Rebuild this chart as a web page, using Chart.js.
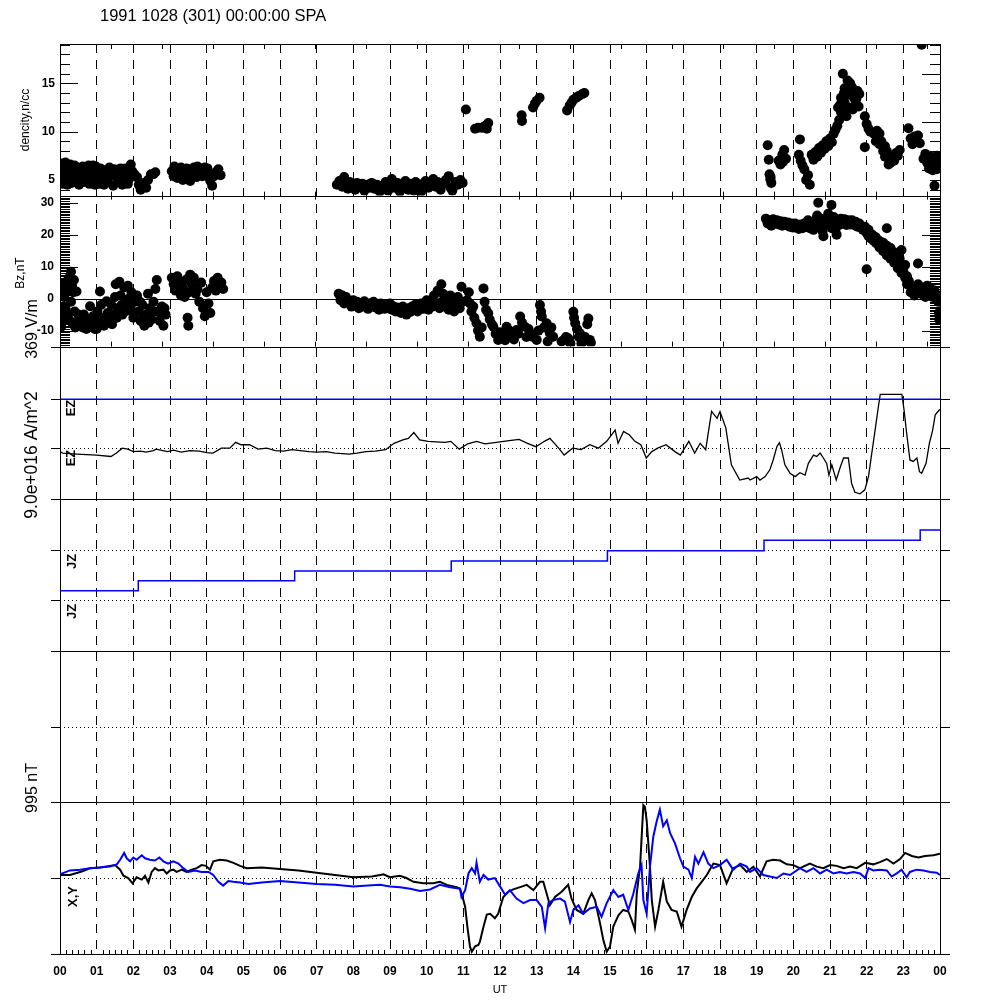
<!DOCTYPE html>
<html>
<head>
<meta charset="utf-8">
<script src="https://cdn.jsdelivr.net/npm/chart.js@4/dist/chart.umd.min.js"></script>
<style>
  html, body { margin: 0; padding: 0; background: #fff; }
  #wrap { width: 1000px; height: 1000px; }
</style>
</head>
<body>
<div id="wrap"><canvas id="c" width="1000" height="1000"></canvas></div>
<script>
// ---- data (hours UT) ----
const hourTicks = [0,1,2,3,4,5,6,7,8,9,10,11,12,13,14,15,16,17,18,19,20,21,22,23,24];
const hourLabels = ["00","01","02","03","04","05","06","07","08","09","10","11","12",
  "13","14","15","16","17","18","19","20","21","22","23","00"];
const densTicks = [5, 10, 15];
const densTicksRight = [6, 11, 16];
const bzTicks = [-10, 0, 10, 20, 30];
const bzTicksRight = [-10, 10, 20];

// density, n/cc
const densPts = [
  [0.03,6.7],[0.05,5.2],[0.06,4.6],[0.10,6.2],[0.12,5.0],[0.15,6.8],[0.18,5.8],[0.20,4.5],[0.22,6.4],[0.26,5.4],
  [0.28,6.6],[0.32,4.7],[0.35,6.2],[0.38,5.6],[0.40,6.5],[0.45,5.0],[0.48,6.3],[0.52,4.5],[0.55,6.0],[0.58,5.5],
  [0.62,6.4],[0.65,4.8],[0.70,6.2],[0.72,5.3],[0.78,6.5],[0.80,4.6],[0.85,5.9],[0.88,6.1],[0.92,5.2],[0.95,4.5],
  [0.98,6.4],[1.03,5.9],[1.06,4.6],[1.10,6.2],[1.15,5.4],[1.20,4.5],[1.25,6.0],[1.30,5.0],[1.35,6.3],[1.40,5.6],
  [1.45,4.4],[1.50,5.4],[1.55,6.0],[1.60,4.9],[1.65,6.2],[1.70,4.5],[1.75,5.3],[1.80,5.8],[1.85,4.6],[1.90,5.6],
  [1.93,6.6],[1.97,5.9],[2.03,5.6],[2.10,5.3],[2.15,4.5],[2.20,4.0],[2.25,4.2],[2.28,4.7],[2.35,4.2],[2.40,5.0],
  [2.48,5.6],[2.55,5.6],[2.60,5.8],
  [0.08,5.6],[0.25,5.9],[0.42,5.5],[0.60,5.1],[0.75,5.8],[0.90,6.5],[1.00,5.0],[1.12,5.0],[1.32,5.6],[1.48,6.1],
  [1.62,5.5],[1.78,6.2],[1.88,5.1],
  [3.05,5.9],[3.10,5.4],[3.15,6.1],[3.20,5.2],[3.25,5.8],[3.30,6.3],[3.35,5.0],[3.40,5.5],[3.45,6.2],[3.50,5.9],
  [3.55,4.9],[3.60,5.6],[3.65,6.3],[3.70,6.0],[3.75,6.4],[3.80,5.6],[3.85,6.2],[3.90,5.9],[3.95,6.3],[4.00,5.8],
  [4.05,5.3],[4.10,4.9],[4.15,4.4],[4.20,5.4],[4.25,5.8],[4.32,6.1],[4.38,5.5],
  [3.12,6.4],[3.28,5.6],[3.42,6.0],[3.58,6.1],[3.72,5.3],[3.88,5.4],[4.02,6.2],
  [7.55,4.5],[7.62,4.9],[7.70,4.3],[7.75,5.3],[7.80,4.6],[7.85,4.1],[7.90,4.8],[7.95,4.3],[8.00,4.6],[8.05,4.0],
  [8.10,4.7],[8.18,4.3],[8.25,4.6],[8.30,3.9],[8.38,4.5],[8.45,4.2],[8.50,4.7],[8.58,4.1],[8.65,4.5],[8.72,3.8],
  [8.80,4.4],[8.88,4.8],[8.95,3.9],[9.00,4.5],[9.05,5.1],[9.12,4.2],[9.20,4.7],[9.27,3.8],[9.35,4.4],[9.42,4.9],
  [9.50,4.0],[9.57,4.6],[9.65,3.9],[9.70,4.8],[9.78,4.3],[9.85,3.8],[9.90,4.6],[9.97,4.9],[10.05,4.2],[10.10,4.7],
  [10.18,5.1],[10.25,4.3],[10.30,4.8],[10.38,4.0],[10.45,4.6],[10.52,5.0],[10.60,5.4],[10.65,4.2],[10.70,3.9],[10.78,4.8],
  [10.85,4.5],[10.92,5.0],[10.98,4.7],
  [11.07,12.3],[11.32,10.3],[11.40,10.4],[11.50,10.4],[11.60,10.6],[11.68,10.9],[11.64,10.3],
  [12.59,11.7],[12.60,11.1],[12.90,12.5],[12.95,12.9],[13.00,13.2],[13.08,13.5],
  [13.83,12.2],[13.90,12.7],[13.95,13.0],[14.00,13.3],[14.08,13.5],[14.15,13.7],[14.25,13.9],[14.30,14.0],
  [19.30,8.6],[19.33,7.1],[19.35,5.6],[19.37,5.1],[19.40,4.7],[19.38,5.3],[19.60,7.0],[19.70,7.6],[19.75,8.1],[19.65,6.6],
  [19.80,7.2],[19.72,6.9],
  [20.18,9.2],[20.15,7.6],[20.20,7.0],[20.30,6.1],[20.40,5.5],[20.35,5.0],[20.45,4.5],[20.50,7.6],[20.60,7.9],[20.70,8.3],
  [20.25,6.5],[20.55,7.1],[20.65,7.4],[20.75,7.8],[20.85,8.2],[20.95,8.5],[21.05,8.9],
  [20.80,8.6],[20.90,9.0],[21.00,9.3],[21.10,9.8],[21.15,10.2],[21.20,10.6],[21.25,11.2],[21.30,12.0],[21.30,13.5],[21.35,16.0],
  [21.40,14.5],[21.45,13.8],[21.50,14.2],[21.55,15.0],[21.60,14.6],[21.65,13.5],[21.70,12.9],[21.75,14.2],[21.80,13.9],[21.50,12.5],
  [21.45,11.6],[21.40,13.0],[21.22,12.5],[21.28,12.8],[21.38,14.0],[21.48,15.3],[21.58,13.9],[21.62,12.3],[21.72,13.4],[21.78,12.6],
  [21.95,11.6],[22.00,10.8],[22.05,10.3],[22.10,10.0],[21.95,8.4],[22.20,9.8],[22.30,9.4],[22.40,9.0],
  [22.50,8.5],[22.55,8.0],[22.60,7.4],[22.65,6.8],[22.70,7.3],[22.80,7.8],[22.90,8.1],
  [22.25,9.0],[22.35,8.7],[22.45,8.0],[22.50,7.4],[22.60,6.6],[22.75,7.0],[22.85,7.5],[22.35,9.8],[22.28,10.1],
  [23.14,10.35],[23.20,9.3],[23.30,9.5],[23.25,8.7],
  [23.40,9.6],[23.45,8.8],[23.35,9.0],[23.55,7.2],[23.65,6.8],[23.75,7.4],[23.85,6.5],[23.95,7.0],[23.90,6.1],[23.70,6.2],
  [23.60,7.7],[23.80,6.0],[23.98,6.5],[23.92,7.5],
  [23.85,4.4],[23.50,19.0]
];

// Bz, nT
const bzPts = [
  [0.03,-8.8],[0.05,1.5],[0.06,-2.5],[0.08,4.5],[0.10,-5],[0.12,0.5],[0.15,-6.5],[0.18,2.5],[0.20,5.5],[0.25,6.5],
  [0.30,8.4],[0.33,4.0],[0.30,-1],[0.36,2.0],[0.38,5.8],[0.40,-4],[0.45,2.2],[0.45,-7.5],[0.50,-5],[0.52,-8.5],
  [0.58,-6.5],[0.62,-9],[0.68,-8],[0.72,-9.5],[0.75,-6.5],[0.82,-2.4],[0.85,-8.5],[0.90,-5.5],[0.95,-9.5],[0.98,-7],
  [1.02,-4],[1.05,-8],[1.09,2.2],[1.12,-2],[1.16,-6],[1.20,-8.5],[1.27,-0.8],[1.30,-4.5],[1.35,-7],[1.40,-2],
  [1.45,-5],[1.50,0.5],[1.52,4.5],[1.58,-3],[1.62,5.3],[1.65,1],[1.70,-5],[1.75,3.5],[1.80,-1],[1.85,4],
  [1.88,0],[1.92,-3],[1.95,2],[2.00,-6],[2.05,-1],[2.10,1],[2.15,-4],[2.20,-7],[2.25,-2],[2.30,-8.5],
  [2.35,-5],[2.40,1.5],[2.45,-3],[2.50,-6.5],[2.55,-1],[2.60,3],[2.64,5.8],[2.68,-4],[2.72,-7],[2.78,-2.5],
  [2.82,-8.5],[2.88,-5],
  [0.15,-3],[0.22,-5],[0.28,-7],[0.35,-8],[0.42,-9],[0.55,-7],[0.65,-5],[0.78,-9],[0.88,-7],[1.00,-9.5],
  [1.08,-6],[1.25,-7],[1.42,-8],[1.55,-6],[1.68,-2],[1.78,-4],[1.98,-4],[2.18,-1],[2.28,-5.5],[2.42,-7.5],
  [2.58,-4],[2.75,-5],[2.85,-3],
  [3.05,6.5],[3.10,4.5],[3.15,2.5],[3.20,7.0],[3.25,5.5],[3.30,1.0],[3.35,3.5],[3.40,0.5],[3.45,6.0],[3.48,-6.0],
  [3.50,-8.5],[3.52,2.0],[3.55,7.5],[3.60,4.5],[3.65,6.5],[3.70,1.5],[3.75,3.0],[3.80,-1.0],[3.85,5.0],[3.90,-3.0],
  [3.95,-5.5],[4.00,2.0],[4.05,-1.5],[4.10,-4.5],[4.15,3.5],[4.20,5.5],[4.25,2.5],[4.30,6.5],[4.35,4.0],[4.40,5.0],
  [4.45,3.0],
  [7.60,1.5],[7.65,-0.5],[7.70,1.0],[7.75,-1.5],[7.80,0.5],[7.90,-1],[7.95,-2.5],[8.00,-0.5],[8.05,-2],[8.10,-1],
  [8.15,-3],[8.20,-1.5],[8.25,-2.5],[8.30,-0.8],[8.35,-2.2],[8.40,-3.2],[8.45,-1.5],[8.50,-2.5],[8.55,-1.0],[8.60,-2.8],
  [8.65,-2.0],[8.70,-3.5],[8.75,-1.5],[8.80,-2.5],[8.85,-3.2],[8.90,-2.0],[8.95,-3.0],[9.00,-1.5],[9.05,-3.5],[9.10,-2.5],
  [9.15,-4.0],[9.20,-2.8],[9.25,-3.5],[9.30,-4.5],[9.35,-2.5],[9.40,-3.8],[9.45,-5.0],[9.50,-3.0],[9.55,-4.2],[9.60,-2.5],
  [9.65,-3.5],[9.70,-1.8],[9.75,-4.0],[9.80,-2.8],[9.85,-1.5],[9.90,-3.2],[9.95,-2.0],[10.00,-0.5],[10.05,-3.5],[10.10,-1.0],
  [10.15,-2.5],[10.20,1.0],[10.25,-2.0],[10.30,2.5],[10.35,-3.0],[10.40,4.5],[10.42,-1],[10.45,1.5],[10.50,-2.5],[10.55,-0.5],
  [10.60,-3.5],[10.65,1.0],[10.70,-1.5],[10.75,-4.0],[10.80,-2.0],[10.85,0.5],[10.90,-3.0],[10.95,3.7],[10.98,-1.0],
  [11.10,-0.5],[11.15,2.0],[11.18,-1.5],[11.22,-4.0],[11.27,-2.5],[11.30,-6.0],[11.36,-7.7],[11.40,-10.0],[11.45,-11.9],[11.50,-9.0],
  [11.55,3.2],[11.58,-1.0],[11.62,-3.5],[11.68,-4.6],[11.72,-6.5],[11.78,-8.0],[11.82,-8.8],[11.88,-11.0],[11.95,-12.9],[12.00,-10.5],
  [12.05,-12.0],[12.09,-10.8],[12.14,-13.0],[12.18,-8.8],[12.25,-10.0],[12.32,-11.9],[12.38,-12.8],[12.45,-9.8],[12.50,-11.0],[12.55,-5.6],
  [12.60,-7.5],[12.68,-8.8],[12.72,-12.0],[12.78,-9.5],[12.82,-10.8],[12.90,-12.0],[13.00,-12.9],[13.05,-10.0],[13.09,-2.0],[13.12,-4.0],
  [13.14,-5.6],[13.20,-9.0],[13.27,-7.7],[13.30,-13.4],[13.36,-10.8],[13.40,-9.0],[13.45,-11.9],[13.68,-13.4],[13.73,-13.0],[13.80,-12.0],
  [13.86,-12.4],[13.92,-14.0],[14.00,-4.1],[14.02,-6.0],[14.05,-7.7],[14.10,-9.5],[14.15,-12.0],[14.18,-10.8],[14.22,-14.0],[14.27,-13.4],
  [14.32,-12.0],[14.38,-8.0],[14.41,-6.2],[14.45,-12.9],[14.48,-13.8],
  [19.25,25],[19.30,23.5],[19.35,24.5],[19.40,22.8],[19.45,24.8],[19.50,23.5],[19.55,24.5],[19.60,23.2],[19.65,24.2],[19.70,22.8],
  [19.75,24],[19.80,23],[19.85,23.8],[19.90,22.5],[19.95,23.5],[20.00,22.2],[20.05,23.5],[20.10,22.5],[20.15,21.8],[20.20,23.2],
  [20.25,22],[20.30,23.5],[20.35,22.5],[20.40,24.5],[20.45,22],[20.50,23.8],[20.55,21.5],[20.60,24.5],[20.65,26],[20.68,30],
  [20.70,22.5],[20.75,25],[20.80,21],[20.82,19.5],[20.85,24.5],[20.90,23],[20.95,26.5],[21.00,24],[21.04,29.3],[21.05,22],
  [21.10,25.5],[21.15,21.5],[21.18,20],[21.20,24.5],[21.25,23],[21.30,25],[21.35,23.5],[21.40,24.8],[21.45,23],[21.50,24.5],
  [21.55,23.2],[21.60,24.5],[21.65,23],[21.70,24],[21.75,22.5],[21.80,23.5],[21.85,22.2],[21.90,21.5],[21.95,22.5],
  [22.00,20.5],[22.05,21.5],[22.10,19],[22.15,20],[22.20,18],[22.25,19.2],[22.30,17],[22.35,18],[22.40,16.5],[22.45,17.5],
  [22.50,15.5],[22.55,22],[22.55,16.5],[22.60,14.5],[22.65,15.8],[22.70,13.5],[22.75,14.5],[22.80,12.5],[22.85,11],[22.90,12.5],
  [22.95,15.2],[22.95,10],[23.00,8.5],[23.05,10.5],[23.10,7],[23.15,5.5],[23.20,4],[23.25,2.5],[23.30,3.5],[23.35,1.5],
  [23.40,11],[23.40,4.5],[23.45,2],[23.50,3.5],[23.55,1.0],[23.60,2.5],[23.65,4],[23.70,2],[23.75,3],[23.80,1.5],
  [23.85,2.5],[23.90,0.5],[23.95,-1],[22.00,9.2],[23.97,-4.5],[23.98,-6.5],[23.99,-5.5],
  [22.05,19.5],[22.15,18.5],[22.25,17.5],[22.35,16],[22.45,14.8],[22.55,13.5],[22.65,12.5],[22.75,11.2],[22.85,9.5],[22.95,8.0],
  [23.05,6.5],[23.10,4.5],[23.20,2],[23.30,1],[23.45,3.2],[23.60,0.5],[23.70,3.5],[23.80,0.5]
];

// EZ trace (panel units: dotted line = 0, blue line = 1)
const ezPts = [
  [0,-0.07],[0.07,-0.1],[0.46,-0.12],[1.0,-0.14],[1.39,-0.17],[1.54,-0.1],[1.7,0.0],[1.85,-0.02],[2.0,-0.07],[2.2,-0.06],
  [2.35,-0.08],[2.55,-0.05],[2.62,-0.02],[2.93,-0.07],[3.1,-0.04],[3.3,-0.08],[3.55,-0.05],[3.8,-0.06],[4.0,-0.09],[4.17,-0.1],
  [4.4,0.0],[4.63,0.0],[4.79,0.12],[4.94,0.07],[5.17,0.07],[5.4,-0.02],[5.64,0.0],[5.87,-0.05],[6.1,-0.06],[6.33,-0.03],
  [6.55,-0.05],[6.8,-0.07],[7.0,-0.08],[7.26,-0.07],[7.5,-0.1],[7.7,-0.11],[7.88,-0.12],[8.1,-0.1],[8.34,-0.07],[8.6,-0.06],
  [8.88,-0.03],[9.11,0.1],[9.35,0.17],[9.5,0.2],[9.65,0.32],[9.81,0.17],[10.04,0.14],[10.5,0.12],[10.66,0.14],[10.89,-0.02],
  [11.12,0.09],[11.36,0.14],[11.59,0.09],[11.9,0.12],[12.2,0.15],[12.52,0.18],[12.75,0.1],[12.98,0.03],[13.21,0.14],[13.36,0.2],
  [13.6,0.0],[13.75,-0.14],[13.98,0.0],[14.21,-0.03],[14.45,0.07],[14.68,0.0],[14.91,0.14],[15.14,0.37],[15.22,0.1],[15.37,0.34],
  [15.53,0.27],[15.68,0.14],[15.84,0.07],[15.99,-0.2],[16.14,-0.07],[16.3,0.0],[16.53,0.07],[16.77,-0.07],[16.92,-0.14],[17.15,0.14],
  [17.31,-0.1],[17.46,0.1],[17.61,-0.03],[17.77,0.75],[17.92,0.61],[18.0,0.75],[18.16,0.41],[18.31,-0.34],[18.54,-0.65],[18.77,-0.61],
  [18.82,-0.65],[19.0,-0.58],[19.09,-0.65],[19.23,-0.58],[19.36,-0.44],[19.45,-0.24],[19.55,0.03],[19.62,0.11],[19.68,-0.03],[19.77,-0.34],
  [19.91,-0.51],[20.05,-0.58],[20.18,-0.5],[20.32,-0.55],[20.41,-0.31],[20.55,-0.14],[20.64,-0.17],[20.73,-0.1],[20.82,-0.2],[20.91,-0.31],
  [20.97,-0.55],[21.05,-0.34],[21.17,-0.65],[21.27,-0.41],[21.37,-0.2],[21.5,-0.2],[21.59,-0.72],[21.68,-0.9],[21.82,-0.93],[21.95,-0.85],
  [22.05,-0.58],[22.14,-0.1],[22.23,0.37],[22.32,0.85],[22.37,1.1],[22.96,1.1],[23.02,0.78],[23.09,0.31],[23.18,-0.24],[23.27,-0.27],
  [23.37,-0.2],[23.44,-0.48],[23.5,-0.51],[23.62,-0.31],[23.71,0.1],[23.8,0.37],[23.87,0.68],[23.98,0.78],[24.0,0.78]
];
const ezBluePts = [[0,1],[24,1]];

// JZ step trace (dotted line = 0)
const jzPts = [[0,0.19],[2.135,0.39],[6.4,0.58],[10.67,0.78],[14.93,0.98],[19.2,1.19],[23.46,1.39],[24,1.39]];

// X (black) and Y (blue) magnetometer traces, panel units (dotted = 0, edges = +-1)
const magXPts = [
  [0,0.04],[0.27,0.04],[0.55,0.08],[0.68,0.10],[0.82,0.13],[1.09,0.14],[1.36,0.16],[1.5,0.17],[1.64,0.11],[1.73,0.03],
  [1.86,0.0],[1.98,-0.07],[2.09,0.01],[2.23,-0.02],[2.32,0.03],[2.41,-0.06],[2.5,0.08],[2.59,0.13],[2.68,0.10],[2.82,0.11],
  [2.91,0.06],[3.0,0.10],[3.09,0.11],[3.18,0.08],[3.32,0.11],[3.45,0.08],[3.59,0.11],[3.73,0.13],[3.86,0.17],[3.98,0.16],
  [4.09,0.11],[4.18,0.22],[4.36,0.24],[4.55,0.23],[4.73,0.20],[4.91,0.16],[5.09,0.13],[5.5,0.14],[6.0,0.12],[6.5,0.10],
  [7.0,0.07],[7.5,0.04],[8.0,0.01],[8.5,0.02],[8.73,0.04],[8.82,0.05],[9.0,0.01],[9.27,0.03],[9.45,0.0],[9.64,-0.05],
  [9.91,-0.07],[10.18,-0.07],[10.36,-0.05],[10.55,-0.09],[10.82,-0.12],[10.91,-0.14],[10.98,-0.25],[11.05,-0.38],[11.11,-0.64],[11.18,-0.90],
  [11.23,-0.97],[11.32,-0.90],[11.41,-0.88],[11.45,-0.84],[11.55,-0.64],[11.64,-0.48],[11.73,-0.47],[11.86,-0.53],[11.95,-0.47],[12.09,-0.25],
  [12.23,-0.18],[12.36,-0.15],[12.55,-0.12],[12.73,-0.09],[12.91,-0.16],[13.09,-0.05],[13.18,-0.05],[13.27,-0.20],[13.36,-0.36],[13.5,-0.25],
  [13.68,-0.18],[13.86,-0.09],[13.95,-0.27],[14.09,-0.42],[14.27,-0.47],[14.41,-0.29],[14.5,-0.20],[14.59,-0.29],[14.73,-0.60],[14.82,-0.82],
  [14.91,-0.97],[15.0,-0.90],[15.09,-0.64],[15.23,-0.49],[15.36,-0.42],[15.5,-0.44],[15.59,-0.55],[15.68,-0.68],[15.73,-0.20],[15.82,0.15],
  [15.91,0.96],[15.95,0.94],[16.0,0.76],[16.09,0.15],[16.14,-0.29],[16.23,-0.64],[16.32,-0.42],[16.45,-0.05],[16.55,-0.31],[16.68,-0.42],
  [16.82,-0.44],[16.95,-0.64],[17.09,-0.42],[17.23,-0.25],[17.36,-0.14],[17.5,-0.05],[17.64,0.04],[17.82,0.19],[18.0,0.17],[18.18,-0.07],
  [18.36,0.13],[18.55,0.17],[18.73,0.08],[18.91,0.15],[19.09,0.02],[19.27,0.22],[19.45,0.24],[19.64,0.23],[19.82,0.18],[20.0,0.17],
  [20.18,0.13],[20.45,0.19],[20.64,0.15],[20.82,0.13],[21.0,0.17],[21.18,0.16],[21.37,0.13],[21.55,0.15],[21.73,0.13],[21.96,0.20],
  [22.18,0.18],[22.36,0.21],[22.55,0.25],[22.73,0.19],[22.91,0.25],[23.05,0.33],[23.23,0.29],[23.41,0.27],[23.59,0.29],[23.82,0.30],
  [24.0,0.32]
];
const magYPts = [
  [0,0.05],[0.27,0.10],[0.55,0.11],[0.82,0.13],[1.09,0.14],[1.36,0.15],[1.55,0.18],[1.64,0.24],[1.75,0.33],[1.82,0.26],
  [1.91,0.22],[2.0,0.27],[2.09,0.24],[2.23,0.30],[2.32,0.26],[2.45,0.24],[2.59,0.23],[2.71,0.27],[2.82,0.22],[2.95,0.19],
  [3.09,0.22],[3.23,0.19],[3.36,0.13],[3.5,0.08],[3.68,0.10],[3.86,0.08],[4.05,0.08],[4.18,0.04],[4.32,-0.05],[4.45,-0.10],
  [4.59,-0.04],[4.73,-0.05],[4.91,-0.06],[5.14,-0.08],[5.5,-0.06],[6.0,-0.04],[6.5,-0.06],[7.0,-0.08],[7.5,-0.09],[8.0,-0.11],
  [8.4,-0.10],[8.73,-0.09],[9.0,-0.11],[9.27,-0.12],[9.55,-0.14],[9.82,-0.17],[10.09,-0.15],[10.36,-0.09],[10.64,-0.12],[10.91,-0.14],
  [10.95,-0.25],[11.05,-0.16],[11.14,0.06],[11.23,0.13],[11.32,0.06],[11.36,0.20],[11.45,-0.05],[11.55,0.04],[11.68,-0.02],[11.86,0.0],
  [12.0,-0.11],[12.14,-0.22],[12.27,-0.16],[12.45,-0.27],[12.64,-0.33],[12.82,-0.29],[13.0,-0.29],[13.14,-0.38],[13.23,-0.66],[13.32,-0.33],
  [13.45,-0.29],[13.64,-0.27],[13.77,-0.31],[13.91,-0.58],[14.0,-0.42],[14.14,-0.36],[14.27,-0.47],[14.45,-0.40],[14.64,-0.38],[14.77,-0.51],
  [14.91,-0.33],[15.09,-0.16],[15.23,-0.25],[15.36,-0.22],[15.5,-0.42],[15.64,-0.20],[15.77,0.06],[15.86,0.17],[15.91,-0.29],[16.0,-0.47],
  [16.09,0.15],[16.18,0.54],[16.27,0.74],[16.36,0.90],[16.45,0.68],[16.55,0.76],[16.64,0.59],[16.77,0.46],[16.91,0.26],[17.0,0.15],
  [17.14,0.11],[17.23,0.0],[17.32,0.28],[17.41,0.19],[17.55,0.34],[17.68,0.19],[17.82,0.13],[18.0,0.17],[18.18,0.24],[18.36,0.11],
  [18.55,0.19],[18.73,0.15],[18.82,0.08],[19.0,0.13],[19.18,0.04],[19.36,0.02],[19.55,0.0],[19.73,0.06],[19.91,0.04],[20.18,0.13],
  [20.36,0.08],[20.55,0.13],[20.73,0.06],[20.91,0.11],[21.09,0.06],[21.27,0.08],[21.45,0.06],[21.64,0.08],[21.82,0.06],[21.96,0.0],
  [22.05,0.13],[22.18,0.10],[22.36,0.11],[22.55,0.10],[22.68,0.02],[22.82,0.06],[22.95,0.11],[23.09,0.01],[23.18,0.08],[23.36,0.11],
  [23.55,0.10],[23.73,0.08],[23.91,0.07],[24.0,0.04]
];

// ---- layout / styles ----
const FONT = '"Liberation Sans", Arial, Helvetica, sans-serif';
const BLUE = "#0000ff";
const auxTickStep = 1.391; // odd unlabeled ticks on some panel edges (every ~51px)

const panels = [
  { id: "yDens", min: 3.38, max: 19.07, h: 151.7 },
  { id: "yBz", min: -15.0, max: 32.19, h: 151 },
  { id: "yEz", min: -1.04, max: 2.073, h: 152.6 },
  { id: "yJz", min: -1, max: 2, h: 152 },
  { id: "yNone", min: -1, max: 1, h: 151 },
  { id: "yXy", min: -1, max: 1, h: 152 }
];
const refLines = [["yEz", 0], ["yEz", 1], ["yJz", 1], ["yJz", 0], ["yNone", 0], ["yXy", 0]];

function xy(arr) { return arr.map(function (p) { return { x: p[0], y: p[1] }; }); }

function hline(ctx, y, x1, x2) {
  const yy = Math.round(y) + 0.5;
  ctx.beginPath(); ctx.moveTo(x1, yy); ctx.lineTo(x2, yy); ctx.stroke();
}
function vline(ctx, x, y1, y2) {
  const xx = Math.round(x) + 0.5;
  ctx.beginPath(); ctx.moveTo(xx, y1); ctx.lineTo(xx, y2); ctx.stroke();
}
function vtext(ctx, text, cx, cy, font) {
  ctx.save();
  ctx.translate(cx, cy);
  ctx.rotate(-Math.PI / 2);
  ctx.font = font;
  ctx.textAlign = "center";
  ctx.textBaseline = "middle";
  ctx.fillText(text, 0, 0);
  ctx.restore();
}

const scales = {
  x: {
    type: "linear", position: "bottom", min: 0, max: 24, weight: 0,
    afterFit: function (s) { s.height = 46; },
    afterBuildTicks: function (s) { s.ticks = hourTicks.map(function (v) { return { value: v }; }); },
    grid: { color: "#000", lineWidth: 1, drawTicks: false },
    border: { display: false, dash: [9, 7] },
    ticks: {
      autoSkip: false, maxRotation: 0, padding: 10, color: "#000",
      font: { family: FONT, size: 12, weight: "bold" },
      callback: function (v, i) { return hourLabels[i]; }
    }
  }
};
panels.forEach(function (p, i) {
  scales[p.id] = {
    type: "linear", position: "left", stack: "panels", stackWeight: p.h,
    weight: panels.length - i, min: p.min, max: p.max,
    afterFit: function (s) { s.width = 60; },
    grid: { display: false, drawTicks: false },
    border: { display: false },
    ticks: { display: false }
  };
});
scales.yDens.ticks = { display: true, padding: 5, color: "#000", font: { family: FONT, size: 12, weight: "bold" } };
scales.yDens.afterBuildTicks = function (s) { s.ticks = densTicks.map(function (v) { return { value: v }; }); };
scales.yBz.ticks = { display: true, padding: 6, color: "#000", font: { family: FONT, size: 12, weight: "bold" } };
scales.yBz.afterBuildTicks = function (s) { s.ticks = bzTicks.map(function (v) { return { value: v }; }); };

const panelPlugin = {
  id: "panelPlugin",
  beforeDatasetsDraw: function (chart) {
    const ctx = chart.ctx, a = chart.chartArea, s = chart.scales;
    ctx.save();
    ctx.strokeStyle = "#000";
    ctx.lineWidth = 1;
    refLines.forEach(function (r) {
      const y = s[r[0]].getPixelForValue(r[1]);
      ctx.setLineDash([1, 3]);
      hline(ctx, y, a.left, a.right);
      ctx.setLineDash([]);
      hline(ctx, y, a.left - 9, a.left);
      hline(ctx, y, a.right, a.right + 10);
    });
    ctx.restore();
  },
  beforeDatasetDraw: function (chart, args) {
    const ys = chart.scales[args.meta.yAxisID];
    const a = chart.chartArea;
    chart.ctx.save();
    chart.ctx.beginPath();
    chart.ctx.rect(a.left, ys.top, a.right - a.left, ys.bottom - ys.top);
    chart.ctx.clip();
  },
  afterDatasetDraw: function (chart) {
    chart.ctx.restore();
  },
  afterDatasetsDraw: function (chart) {
    const ctx = chart.ctx, a = chart.chartArea, s = chart.scales;
    ctx.save();
    ctx.strokeStyle = "#000";
    ctx.lineWidth = 1;
    // frame
    vline(ctx, a.left, a.top, a.bottom + 1);
    vline(ctx, a.right, a.top, a.bottom + 1);
    hline(ctx, s.yDens.top, a.left, a.right);
    hline(ctx, s.yDens.bottom, a.left, a.right);
    hline(ctx, s.yBz.getPixelForValue(0), a.left, a.right);
    ["yBz", "yEz", "yJz", "yNone", "yXy"].forEach(function (id) {
      hline(ctx, s[id].bottom, a.left - 9, a.right + 10);
    });
    // density ticks
    for (let v = 4; v <= 19; v++) {
      const y = s.yDens.getPixelForValue(v);
      hline(ctx, y, a.left, a.left + (densTicks.indexOf(v) >= 0 ? 18 : 10));
      hline(ctx, y, a.right - (densTicksRight.indexOf(v) >= 0 ? 18 : 10), a.right);
    }
    // Bz ticks
    for (let k = -29; k <= 64; k++) {
      const v = k / 2;
      const y = s.yBz.getPixelForValue(v);
      hline(ctx, y, a.left, a.left + (bzTicks.indexOf(v) >= 0 ? 18 : 10));
      hline(ctx, y, a.right - (bzTicksRight.indexOf(v) >= 0 ? 18 : 10), a.right);
    }
    // 10-minute ticks on the UT axis
    for (let m = 1; m < 144; m++) {
      if (m % 6 === 0) continue;
      vline(ctx, s.x.getPixelForValue(m / 6), a.bottom - 4, a.bottom);
    }
    // odd edge ticks
    for (let k = 1; k <= 17; k++) {
      const x = s.x.getPixelForValue(k * auxTickStep);
      vline(ctx, x, a.top, a.top + 5);
      vline(ctx, x, s.yDens.bottom - 4, s.yDens.bottom + 4);
      vline(ctx, x, s.yBz.bottom - 5, s.yBz.bottom);
    }
    ctx.restore();
  },
  afterDraw: function (chart) {
    const ctx = chart.ctx;
    ctx.save();
    ctx.fillStyle = "#000";
    ctx.font = "16.5px " + FONT;
    ctx.textAlign = "left";
    ctx.textBaseline = "alphabetic";
    ctx.fillText("1991 1028 (301) 00:00:00 SPA", 100, 21);
    vtext(ctx, "dencity,n/cc", 25.5, 120, "12px " + FONT);
    vtext(ctx, "Bz,nT", 21, 273, "12px " + FONT);
    vtext(ctx, "369 V/m", 32.5, 329, "16px " + FONT);
    vtext(ctx, "9.0e+016 A/m^2", 32.5, 455, "17.5px " + FONT);
    vtext(ctx, "995 nT", 32.5, 788, "16px " + FONT);
    const lf = "bold 13px " + FONT;
    vtext(ctx, "EZ", 71.5, 408, lf);
    vtext(ctx, "EZ", 71.5, 458, lf);
    vtext(ctx, "JZ", 72, 561.5, lf);
    vtext(ctx, "JZ", 72, 611.5, lf);
    vtext(ctx, "X,Y", 73, 896.5, lf);
    ctx.font = "11px " + FONT;
    ctx.textAlign = "center";
    ctx.textBaseline = "middle";
    ctx.fillText("UT", 500, 990);
    ctx.restore();
  }
};

const dotStyle = { pointRadius: 5, pointHoverRadius: 5, pointBorderWidth: 0, pointBackgroundColor: "#000", showLine: false };
const lineStyle = { showLine: true, pointRadius: 0, pointHoverRadius: 0, fill: false };

new Chart(document.getElementById("c"), {
  type: "scatter",
  data: {
    datasets: [
      Object.assign({ label: "density", data: xy(densPts), xAxisID: "x", yAxisID: "yDens" }, dotStyle),
      Object.assign({ label: "Bz", data: xy(bzPts), xAxisID: "x", yAxisID: "yBz" }, dotStyle),
      Object.assign({ label: "EZ ref", data: xy(ezBluePts), xAxisID: "x", yAxisID: "yEz", borderColor: BLUE, borderWidth: 1.5 }, lineStyle),
      Object.assign({ label: "EZ", data: xy(ezPts), xAxisID: "x", yAxisID: "yEz", borderColor: "#000", borderWidth: 1.3 }, lineStyle),
      Object.assign({ label: "JZ", data: xy(jzPts), xAxisID: "x", yAxisID: "yJz", borderColor: BLUE, borderWidth: 1.5, stepped: true }, lineStyle),
      Object.assign({ label: "Y", data: xy(magYPts), xAxisID: "x", yAxisID: "yXy", borderColor: BLUE, borderWidth: 2 }, lineStyle),
      Object.assign({ label: "X", data: xy(magXPts), xAxisID: "x", yAxisID: "yXy", borderColor: "#000", borderWidth: 2 }, lineStyle)
    ]
  },
  options: {
    responsive: false,
    animation: false,
    devicePixelRatio: 1,
    events: [],
    layout: { padding: { top: 44, right: 60, bottom: 0, left: 0 } },
    plugins: { legend: { display: false }, tooltip: { enabled: false } },
    scales: scales
  },
  plugins: [panelPlugin]
});
</script>
</body>
</html>
